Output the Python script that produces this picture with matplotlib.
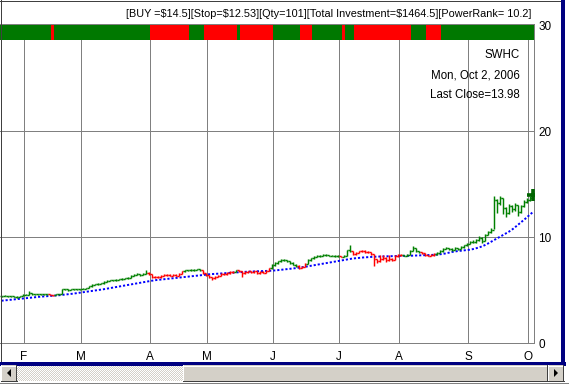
import matplotlib
matplotlib.use("Agg")
import matplotlib.pyplot as plt
from matplotlib.collections import LineCollection
from matplotlib.patches import Rectangle, Polygon
import numpy as np

# ---------------- data ----------------
closes = [
    4.43, 4.45, 4.40, 4.42, 4.38, 4.30, 4.45, 4.55, 4.55, 4.70,
    4.60, 4.62, 4.60, 4.58, 4.62, 4.60, 4.55, 4.52, 4.58, 4.62,
    5.05, 5.05, 5.00, 5.05, 5.05, 5.10, 5.08, 5.12, 5.15, 5.35,
    5.50, 5.55, 5.60, 5.62, 5.80, 5.85, 5.90, 5.92, 5.95, 6.00,
    6.05, 6.10, 6.15, 6.30, 6.45, 6.50, 6.42, 6.55, 6.65, 6.55,
    6.20, 6.25, 6.20, 6.30, 6.45, 6.40, 6.35, 6.45, 6.35, 6.50,
    6.75, 6.85, 6.85, 6.90, 6.88, 6.95, 6.90, 6.60, 6.40, 6.20,
    6.10, 6.25, 6.35, 6.50, 6.50, 6.60, 6.70, 6.70, 6.85, 6.80,
    6.60, 6.70, 6.75, 6.70, 6.75, 6.60, 6.70, 6.65, 6.80, 7.05,
    7.35, 7.55, 7.70, 7.85, 7.80, 7.75, 7.55, 7.40, 7.30, 7.10,
    7.20, 7.50, 7.80, 8.00, 8.15, 8.20, 8.25, 8.30, 8.30, 8.25,
    8.25, 8.20, 8.20, 8.15, 8.20, 8.75, 8.70, 8.40, 8.50, 8.65,
    8.70, 8.55, 8.60, 8.40, 7.90, 7.70, 7.90, 8.05, 7.80, 7.95,
    7.85, 8.20, 8.30, 8.30, 8.25, 8.35, 8.70, 8.95, 8.65, 8.55,
    8.50, 8.30, 8.25, 8.30, 8.40, 8.50, 8.65, 8.90, 8.95, 8.90,
    8.80, 8.95, 8.90, 9.05, 9.20, 9.35, 9.55, 9.50, 9.70, 9.95,
    9.60, 10.20, 10.50, 10.70, 13.50, 13.20, 13.70, 12.70, 12.30, 12.90,
    12.60, 13.00, 12.40, 12.90, 13.30, 13.50, 13.70, 13.98,
]
highs = [
    4.48, 4.50, 4.47, 4.46, 4.44, 4.40, 4.48, 4.58, 4.60, 4.92,
    4.72, 4.66, 4.65, 4.63, 4.66, 4.65, 4.62, 4.57, 4.62, 4.66,
    5.10, 5.12, 5.08, 5.09, 5.10, 5.14, 5.13, 5.16, 5.20, 5.40,
    5.55, 5.60, 5.65, 5.68, 5.85, 5.92, 5.95, 5.98, 6.00, 6.05,
    6.10, 6.15, 6.22, 6.38, 6.55, 6.58, 6.55, 6.62, 6.90, 6.70,
    6.50, 6.32, 6.30, 6.38, 6.55, 6.50, 6.48, 6.52, 6.50, 6.58,
    6.82, 6.92, 6.92, 6.96, 6.95, 7.00, 6.98, 6.92, 6.62, 6.42,
    6.25, 6.32, 6.42, 6.56, 6.58, 6.66, 6.76, 6.78, 6.92, 6.90,
    6.82, 6.78, 6.82, 6.80, 6.82, 6.78, 6.76, 6.75, 6.86, 7.12,
    7.42, 7.62, 7.78, 7.92, 7.90, 7.85, 7.78, 7.60, 7.45, 7.35,
    7.28, 7.58, 7.88, 8.06, 8.22, 8.28, 8.32, 8.36, 8.36, 8.34,
    8.32, 8.28, 8.26, 8.24, 8.28, 8.82, 9.20, 8.72, 8.58, 8.72,
    8.78, 8.74, 8.68, 8.62, 8.42, 7.95, 8.30, 8.35, 8.10, 8.30,
    8.00, 8.28, 8.38, 8.38, 8.34, 8.42, 8.78, 9.15, 8.98, 8.70,
    8.60, 8.52, 8.35, 8.38, 8.48, 8.60, 8.80, 8.98, 9.05, 9.00,
    8.95, 9.02, 9.00, 9.12, 9.28, 9.45, 9.65, 9.68, 9.80, 10.05,
    10.00, 10.30, 10.60, 10.85, 13.90, 13.60, 13.90, 13.70, 12.80, 13.10,
    13.00, 13.20, 13.00, 13.05, 13.45, 13.65, 13.85, 14.10,
]
lows = [
    4.38, 4.40, 4.36, 4.37, 4.33, 4.22, 4.30, 4.44, 4.50, 4.55,
    4.55, 4.56, 4.55, 4.54, 4.56, 4.55, 4.50, 4.48, 4.50, 4.55,
    4.62, 4.98, 4.95, 4.98, 5.00, 5.02, 5.03, 5.05, 5.08, 5.15,
    5.33, 5.45, 5.50, 5.55, 5.60, 5.75, 5.82, 5.86, 5.88, 5.92,
    5.98, 6.02, 6.08, 6.12, 6.28, 6.40, 6.35, 6.40, 6.52, 6.45,
    6.12, 6.15, 6.14, 6.18, 6.28, 6.32, 6.28, 6.32, 6.28, 6.32,
    6.48, 6.72, 6.78, 6.82, 6.82, 6.85, 6.84, 6.55, 6.32, 6.10,
    5.95, 6.08, 6.22, 6.32, 6.42, 6.45, 6.55, 6.62, 6.68, 6.72,
    6.25, 6.55, 6.65, 6.62, 6.65, 6.52, 6.55, 6.58, 6.62, 6.78,
    7.02, 7.30, 7.48, 7.65, 7.72, 7.66, 7.48, 7.32, 7.20, 6.95,
    7.05, 7.15, 7.45, 7.75, 7.95, 8.10, 8.15, 8.20, 8.22, 8.18,
    8.18, 8.14, 8.12, 8.08, 8.10, 8.18, 8.60, 8.30, 8.35, 8.45,
    8.60, 8.48, 8.50, 8.32, 7.30, 7.55, 7.65, 7.85, 7.60, 7.75,
    7.70, 7.80, 8.15, 8.22, 8.18, 8.20, 8.30, 8.65, 8.58, 8.48,
    8.42, 8.22, 8.18, 8.20, 8.25, 8.35, 8.45, 8.62, 8.85, 8.80,
    8.70, 8.75, 8.82, 8.88, 9.00, 9.15, 9.30, 9.40, 9.45, 9.65,
    9.40, 9.60, 10.15, 10.40, 10.80, 12.30, 13.00, 12.20, 11.90, 12.20,
    12.40, 12.50, 12.00, 12.30, 12.85, 13.20, 13.40, 13.60,
]
moving_avg = [
    3.99, 4.02, 4.05, 4.08, 4.11, 4.14, 4.17, 4.20, 4.23, 4.26,
    4.29, 4.32, 4.35, 4.37, 4.39, 4.41, 4.43, 4.45, 4.47, 4.50,
    4.53, 4.56, 4.59, 4.62, 4.66, 4.70, 4.74, 4.78, 4.82, 4.86,
    4.90, 4.94, 4.98, 5.02, 5.07, 5.12, 5.17, 5.22, 5.27, 5.32,
    5.37, 5.42, 5.47, 5.52, 5.57, 5.62, 5.67, 5.72, 5.78, 5.83,
    5.88, 5.92, 5.95, 5.98, 6.01, 6.04, 6.07, 6.10, 6.13, 6.16,
    6.19, 6.22, 6.25, 6.28, 6.31, 6.34, 6.37, 6.40, 6.44, 6.48,
    6.50, 6.52, 6.54, 6.56, 6.58, 6.60, 6.62, 6.64, 6.66, 6.68,
    6.70, 6.72, 6.73, 6.74, 6.75, 6.76, 6.77, 6.78, 6.79, 6.80,
    6.82, 6.84, 6.87, 6.90, 6.93, 6.96, 6.99, 7.02, 7.06, 7.10,
    7.14, 7.18, 7.23, 7.28, 7.33, 7.38, 7.43, 7.48, 7.53, 7.58,
    7.63, 7.68, 7.73, 7.78, 7.83, 7.88, 7.93, 7.97, 8.00, 8.03,
    8.06, 8.08, 8.10, 8.12, 8.14, 8.15, 8.16, 8.17, 8.18, 8.19,
    8.20, 8.21, 8.21, 8.22, 8.22, 8.23, 8.23, 8.24, 8.25, 8.26,
    8.27, 8.28, 8.29, 8.30, 8.31, 8.33, 8.36, 8.40, 8.45, 8.52,
    8.58, 8.63, 8.67, 8.70, 8.73, 8.76, 8.80, 8.85, 8.92, 9.00,
    9.10, 9.22, 9.36, 9.52, 9.68, 9.84, 10.00, 10.16, 10.32, 10.48,
    10.66, 10.88, 11.12, 11.35, 11.58, 11.82, 12.08, 12.32,
]
# trend state per bar (run lengths): 'up' = green, 'down' = red
bar_state_runs = [("up", 16), ("down", 2), ("up", 31), ("down", 12), ("up", 6),
                  ("down", 11), ("up", 1), ("down", 11), ("up", 9), ("down", 3),
                  ("up", 11), ("down", 1), ("up", 3), ("down", 17), ("up", 6),
                  ("down", 5), ("up", 33)]
band_state_runs = [("up", 17), ("down", 1), ("up", 32), ("down", 13), ("up", 5),
                   ("down", 11), ("up", 1), ("down", 11), ("up", 9), ("down", 4),
                   ("up", 10), ("down", 1), ("up", 3), ("down", 19), ("up", 5),
                   ("down", 5), ("up", 31)]
month_labels = ["F", "M", "A", "M", "J", "J", "A", "S", "O"]
month_start_idx = [8, 27, 50, 69, 91, 113, 133, 156, 176]
y_ticks = [0, 10, 20, 30]
title_text = "[BUY =$14.5][Stop=$12.53][Qty=101][Total Investment=$1464.5][PowerRank= 10.2]"
info_lines = ["SWHC", "Mon, Oct 2, 2006", "Last Close=13.98"]

# ---------------- style ----------------
W, H = 569, 384
GREEN_BAR = "#008000"
GREEN_BAND = "#007800"
RED = "#FF0000"
GRID = "#808080"
FACE = "#D4D0C8"
ONE_PX = 0.72  # points
plt.rcParams["font.family"] = ["Liberation Sans", "DejaVu Sans"]

def expand(runs):
    out = []
    for s, n in runs:
        out += [s] * n
    return out

bar_cols = [GREEN_BAR if s == "up" else RED for s in expand(bar_state_runs)]
band_cols = [GREEN_BAND if s == "up" else RED for s in expand(band_state_runs)]

n = len(closes)
x = np.arange(n)
opens = [closes[0]] + closes[:-1]

fig = plt.figure(figsize=(W / 100, H / 100), dpi=100)
fig.patch.set_facecolor("white")
ax = fig.add_axes([0, 41 / H, 534 / W, 319 / H])
ax.set_xlim(-0.5, n - 0.5)
ax.set_ylim(0, 30.1)
ax.set_facecolor("white")

px = 1 / 3.0  # one pixel in x data units
for m in month_start_idx:
    ax.axvline(m - 0.5, color=GRID, lw=ONE_PX, zorder=1, antialiased=False)
for yv in y_ticks[1:-1]:
    ax.axhline(yv, color=GRID, lw=ONE_PX, zorder=1, antialiased=False)

# power band on top
band_bottom = 28.63
ax.bar(x, 30.0 - band_bottom, bottom=band_bottom, width=1.0, color=band_cols,
       linewidth=0, zorder=4, antialiased=False)

# OHLC bars
segs, cols = [], []
for i in range(n):
    segs.append([(x[i], lows[i]), (x[i], highs[i])]); cols.append(bar_cols[i])
    segs.append([(x[i] - 1.3 * px, opens[i]), (x[i], opens[i])]); cols.append(bar_cols[i])
    segs.append([(x[i], closes[i]), (x[i] + 1.3 * px, closes[i])]); cols.append(bar_cols[i])
lc = LineCollection(segs, colors=cols, linewidths=1.05, zorder=3, antialiased=True,
                    capstyle="butt")
ax.add_collection(lc)

ax.plot(x, moving_avg, color="#0000FF", lw=1.4, dashes=(1.1, 1.0), zorder=2.5)
ax.plot(x[-1], closes[-1], marker="+", ms=8, mew=2.6, color="#006400", zorder=6)

ax.yaxis.tick_right()
ax.set_yticks(y_ticks)
ax.set_yticklabels([str(v) for v in y_ticks])
ax.set_xticks([m - 0.5 for m in month_start_idx])
ax.set_xticklabels(month_labels)
ax.tick_params(axis="y", length=0, pad=3, labelsize=8.5)
ax.tick_params(axis="x", length=0, pad=6, labelsize=8.5)
for s in ["right", "bottom", "top"]:
    ax.spines[s].set_color(GRID)
    ax.spines[s].set_linewidth(ONE_PX)
ax.spines["left"].set_visible(False)

# overlay in pixel coordinates
ov = fig.add_axes([0, 0, 1, 1], zorder=5)
ov.axis("off")
ov.patch.set_alpha(0)

ov.text(531, 14, title_text, ha="right", va="center", fontsize=7.8)
for k, line in enumerate(info_lines):
    ov.text(520, 55 + 20 * k, line, ha="right", va="center", fontsize=8.3)

# window frame
ov.plot([0, 564], [0.5, 0.5], color="#404040", lw=ONE_PX, antialiased=False)
ov.plot([0.5, 0.5], [0, 364], color="#404040", lw=ONE_PX, antialiased=False)
ov.plot([563.5, 563.5], [0, 364], color="#000080", lw=1.5, antialiased=False)
ov.plot([0, 564], [363.5, 363.5], color="#000080", lw=1.5, antialiased=False)

# scrollbar
sy, sh = 365, 16
checker = (np.indices((sh, 166)).sum(axis=0) % 2).astype(float)
ov.imshow(checker, cmap=matplotlib.colors.ListedColormap(["white", FACE]),
          extent=(17, 183, sy + sh, sy), interpolation="nearest", zorder=1, aspect="auto")

def button(x0, w):
    ov.add_patch(Rectangle((x0, sy), w, sh, facecolor=FACE, edgecolor="none", zorder=2))
    ov.plot([x0, x0 + w], [sy + 0.5, sy + 0.5], color="white", lw=ONE_PX, zorder=3)
    ov.plot([x0 + 0.5, x0 + 0.5], [sy, sy + sh], color="white", lw=ONE_PX, zorder=3)
    ov.plot([x0, x0 + w], [sy + sh - 0.5, sy + sh - 0.5], color="#404040", lw=ONE_PX, zorder=3)
    ov.plot([x0 + w - 0.5, x0 + w - 0.5], [sy, sy + sh], color="#404040", lw=ONE_PX, zorder=3)

button(1, 16)
button(183, 365)
button(548, 16)
ov.add_patch(Polygon([(7, sy + 8), (11, sy + 4), (11, sy + 12)], closed=True,
                     facecolor="black", edgecolor="none", zorder=4))
ov.add_patch(Polygon([(558, sy + 8), (554, sy + 4), (554, sy + 12)], closed=True,
                     facecolor="black", edgecolor="none", zorder=4))
ov.plot([0, 569], [382.5, 382.5], color="#808080", lw=ONE_PX)
ov.set_xlim(0, W)
ov.set_ylim(H, 0)

fig.savefig("out.png", dpi=100)
